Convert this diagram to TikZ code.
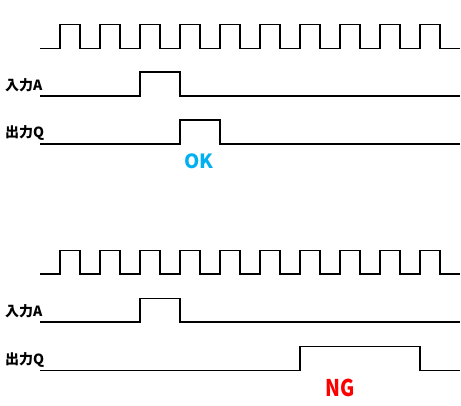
\documentclass[tikz,border=0pt]{standalone}
\usepackage{fontspec}
\usepackage{graphicx}
\newfontfamily\jpfont{Noto Sans CJK JP}
\definecolor{okcol}{HTML}{00B0F0}
\definecolor{ngcol}{HTML}{FF0000}
\begin{document}
\begin{tikzpicture}[x=1pt,y=-1pt,
  wave/.style={line width=1.3pt, line join=miter},
  siglabel/.style={anchor=base west, inner sep=0pt, font=\jpfont\bfseries\fontsize{14}{14}\selectfont},
  verdict/.style={anchor=base, inner sep=0pt, font=\jpfont\bfseries\fontsize{19.5}{20}\selectfont}]
\useasboundingbox (0,0) rectangle (461,405);
% ---------- top (OK) ----------
\draw[wave] (40,48.3) -- (60,48.3)
  \foreach \k in {0,...,9} { -- ({60+40*\k},48.3) -- ({60+40*\k},24.3) -- ({80+40*\k},24.3) -- ({80+40*\k},48.3) -- ({100+40*\k},48.3) }
  -- (460,48.3);
\node[siglabel] (inA1) at (5,90.7) {入力A};
\draw[wave] (40,96) -- (140,96) -- (140,72) -- (180,72) -- (180,96) -- (460,96);
\node[siglabel] (outQ1) at (5,137.8) {出力Q};
\draw[wave] (40,144) -- (180,144) -- (180,120) -- (220,120) -- (220,144) -- (460,144);
\node[verdict, text=okcol] (ok) at (199,168) {OK};
% ---------- bottom (NG) ----------
\draw[wave] (40,274) -- (60,274)
  \foreach \k in {0,...,9} { -- ({60+40*\k},274) -- ({60+40*\k},250.7) -- ({80+40*\k},250.7) -- ({80+40*\k},274) -- ({100+40*\k},274) }
  -- (460,274);
\node[siglabel] (inA2) at (5,316.3) {入力A};
\draw[wave] (40,322) -- (140,322) -- (140,298.3) -- (180,298.3) -- (180,322) -- (460,322);
\node[siglabel] (outQ2) at (5,364) {出力Q};
\draw[wave] (40,370.3) -- (300,370.3) -- (300,346.7) -- (420,346.7) -- (420,370.3) -- (460,370.3);
\node[verdict, text=ngcol] (ng) at (340.5,396.3) {\scalebox{1}[1.18]{NG}};
\end{tikzpicture}
\end{document}
